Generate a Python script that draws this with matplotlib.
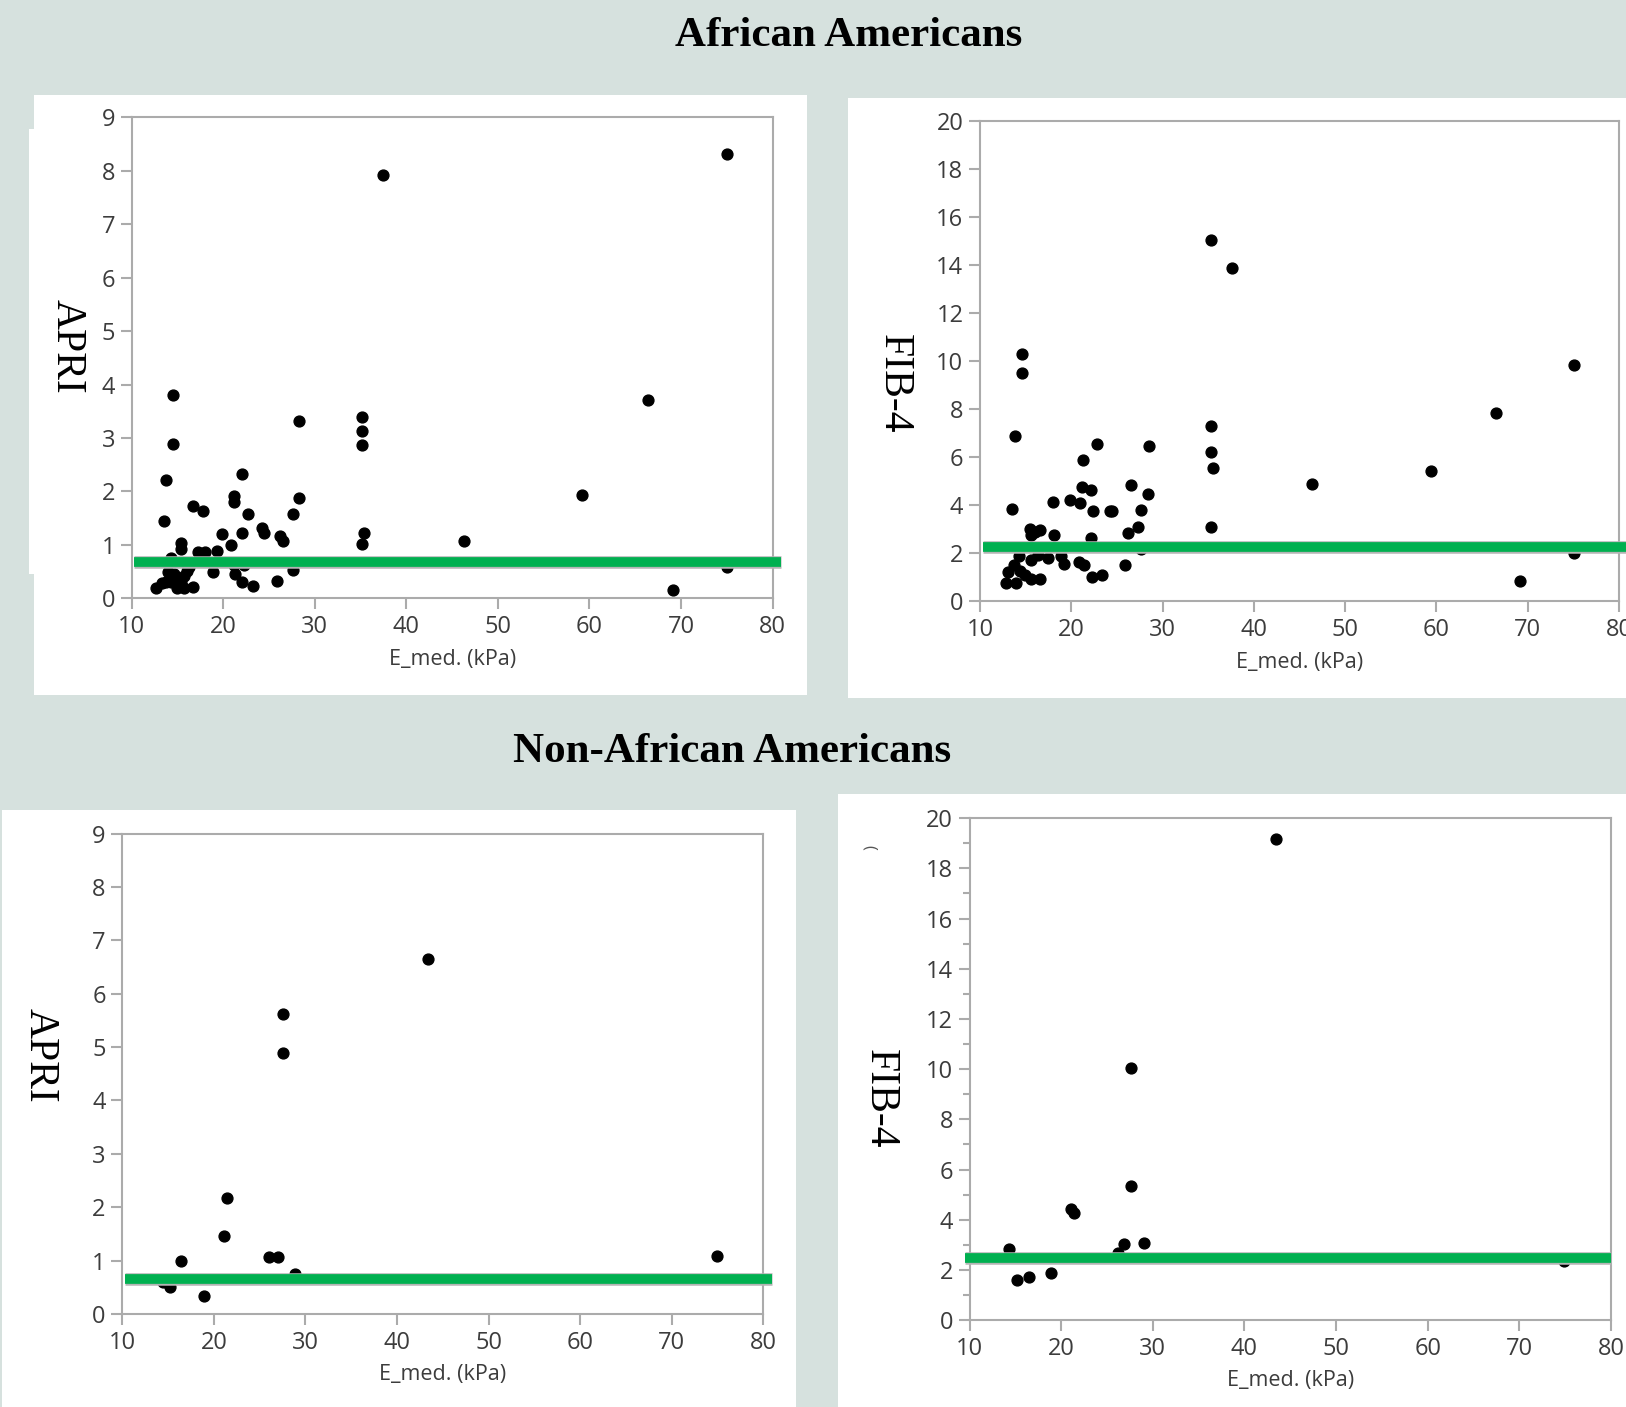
import matplotlib
matplotlib.use('Agg')
import matplotlib.pyplot as plt
from matplotlib.patches import Rectangle
from matplotlib.ticker import MultipleLocator
import matplotlib.patheffects as pe

W, H = 1626, 1407
BG = '#d6e1de'
GREEN = '#00b050'

# (E_med kPa, score)
apri_aa = [(75.0, 8.31), (37.4, 7.92), (14.5, 3.80), (14.5, 2.89), (66.4, 3.72), (28.3, 3.32),
           (35.2, 3.40), (35.2, 3.13), (35.2, 2.86), (13.7, 2.22), (22.1, 2.33), (59.2, 1.94),
           (21.2, 1.91), (21.2, 1.80), (28.3, 1.88), (16.7, 1.72), (17.8, 1.64), (13.5, 1.45),
           (22.7, 1.57), (27.6, 1.57), (19.9, 1.21), (22.1, 1.22), (24.2, 1.31), (24.4, 1.22),
           (26.2, 1.16), (26.5, 1.08), (20.9, 1.00), (35.2, 1.02), (35.4, 1.22), (46.3, 1.08),
           (15.4, 1.04), (15.4, 0.93), (17.2, 0.86), (18.0, 0.86), (19.3, 0.89), (14.3, 0.75),
           (69.1, 0.15), (75.0, 0.58), (27.6, 0.53), (25.9, 0.33), (23.3, 0.24), (22.1, 0.30),
           (21.3, 0.46), (18.9, 0.50), (16.0, 0.52), (14.0, 0.50), (14.6, 0.45), (12.7, 0.20),
           (13.3, 0.28), (14.3, 0.30), (14.9, 0.20), (15.4, 0.30), (15.7, 0.20), (16.7, 0.22),
           (22.3, 0.62), (15.7, 0.41), (16.3, 0.59), (13.8, 0.30), (21.2, 0.63)]

fib4_aa = [(35.3, 15.05), (37.6, 13.9), (14.6, 10.29), (14.6, 9.50), (75.1, 9.84), (66.5, 7.87),
           (35.3, 7.29), (13.8, 6.91), (22.8, 6.55), (28.5, 6.47), (35.3, 6.24), (35.5, 5.55),
           (21.3, 5.89), (59.4, 5.43), (46.4, 4.91), (26.5, 4.87), (21.2, 4.78), (22.2, 4.63),
           (28.4, 4.47), (19.9, 4.22), (18.0, 4.16), (21.0, 4.12), (13.5, 3.86), (22.4, 3.77),
           (24.2, 3.75), (24.5, 3.75), (27.6, 3.80), (35.3, 3.11), (27.3, 3.12), (26.2, 2.84),
           (22.2, 2.64), (18.1, 2.78), (15.5, 3.03), (16.0, 2.89), (16.6, 2.96), (15.6, 2.76),
           (75.1, 2.01), (27.6, 2.18), (14.3, 1.90), (15.6, 1.73), (17.5, 1.80), (18.9, 1.88),
           (19.2, 1.58), (20.8, 1.65), (21.4, 1.54), (25.9, 1.50), (22.3, 1.00), (23.4, 1.09),
           (13.7, 1.54), (13.1, 1.24), (14.4, 1.27), (14.9, 1.12), (15.6, 0.93), (16.6, 0.93),
           (12.8, 0.76), (13.9, 0.76), (69.2, 0.86), (16.4, 1.95)]

apri_naa = [(43.4, 6.65), (27.5, 5.63), (27.5, 4.89), (21.4, 2.18), (21.1, 1.46), (26.0, 1.06),
            (27.0, 1.06), (16.4, 1.00), (74.9, 1.09), (28.9, 0.75), (14.4, 0.59), (15.2, 0.50),
            (18.9, 0.33)]

fib4_naa = [(43.4, 19.17), (27.6, 10.06), (27.6, 5.35), (21.1, 4.41), (21.4, 4.25), (26.9, 3.05),
            (29.0, 3.08), (14.3, 2.84), (26.2, 2.68), (15.2, 1.61), (16.5, 1.72), (18.9, 1.88),
            (74.9, 2.36)]

cutoffs = {'apri_aa': 0.69, 'fib4_aa': 2.29, 'apri_naa': 0.66, 'fib4_naa': 2.47}

plt.rcParams['font.family'] = ['Open Sans', 'DejaVu Sans']
fig = plt.figure(figsize=(W / 100, H / 100), dpi=100, facecolor=BG)


def rect(x0, y0, x1, y1):
    return [x0 / W, 1 - y1 / H, (x1 - x0) / W, (y1 - y0) / H]


def panel(x0, y0, x1, y1):
    fig.add_artist(Rectangle((x0 / W, 1 - y1 / H), (x1 - x0) / W, (y1 - y0) / H,
                             transform=fig.transFigure, facecolor='white',
                             edgecolor='none', zorder=-1))


def scatter_panel(box, pts, ymax, ystep, cut, line_x, label, label_xy, minor=False):
    ax = fig.add_axes(rect(*box))
    xs = [p[0] for p in pts]
    ys = [p[1] for p in pts]
    ax.plot(xs, ys, 'o', color='black', markersize=7.8, zorder=3, clip_on=False)
    ax.plot(line_x, [cut, cut], color=GREEN, linewidth=7, solid_capstyle='butt',
            zorder=4, clip_on=False,
            path_effects=[pe.Stroke(linewidth=9, foreground='#b4b4b4'), pe.Normal()])
    ax.set_xlim(10, 80)
    ax.set_ylim(0, ymax)
    ax.xaxis.set_major_locator(MultipleLocator(10))
    ax.yaxis.set_major_locator(MultipleLocator(ystep))
    if minor:
        ax.yaxis.set_minor_locator(MultipleLocator(ystep / 2))
    for s in ax.spines.values():
        s.set_color('#ababab')
        s.set_linewidth(1.5)
    ax.tick_params(which='both', color='#ababab', width=1.5, labelsize=17,
                   labelcolor='#3c3c3c')
    ax.tick_params(which='major', length=8, pad=4)
    ax.tick_params(which='minor', length=5)
    ax.set_xlabel('E_med. (kPa)', fontsize=15.5, color='#3c3c3c', labelpad=7)
    fig.text(label_xy[0] / W, 1 - label_xy[1] / H, label, rotation=270,
             family='Liberation Serif', fontsize=30, ha='center', va='center')
    return ax


# white backing panels
panel(34, 95, 807, 695)
panel(29, 129, 40, 574)
panel(848, 98, W, 698)
panel(2, 810, 796, H)
panel(838, 794, W, H)

scatter_panel((131.7, 117.2, 772.6, 598.4), apri_aa, 9, 1, cutoffs['apri_aa'],
              [10.3, 80.9], 'APRI', (67, 346))
scatter_panel((980, 121.3, 1619, 601.5), fib4_aa, 20, 2, cutoffs['fib4_aa'],
              [10.3, 81.5], 'FIB-4', (894, 384))
scatter_panel((122.4, 833.7, 763.2, 1313.9), apri_naa, 9, 1, cutoffs['apri_naa'],
              [10.3, 80.95], 'APRI', (40, 1055))
scatter_panel((969.6, 818.2, 1611, 1320.1), fib4_naa, 20, 2, cutoffs['fib4_naa'],
              [9.5, 80.0], 'FIB-4', (880, 1099), minor=True)

fig.text(869 / W, 1 - 847 / H, '(', rotation=270, fontsize=12, ha='center', va='center',
         color='#555555')

fig.text(849 / W, 1 - 36 / H, 'African Americans', family='Liberation Serif',
         fontweight='bold', fontsize=31, ha='center', va='center')
fig.text(732 / W, 1 - 752 / H, 'Non-African Americans', family='Liberation Serif',
         fontweight='bold', fontsize=31, ha='center', va='center')

fig.savefig('out.png', dpi=100, facecolor=BG)
